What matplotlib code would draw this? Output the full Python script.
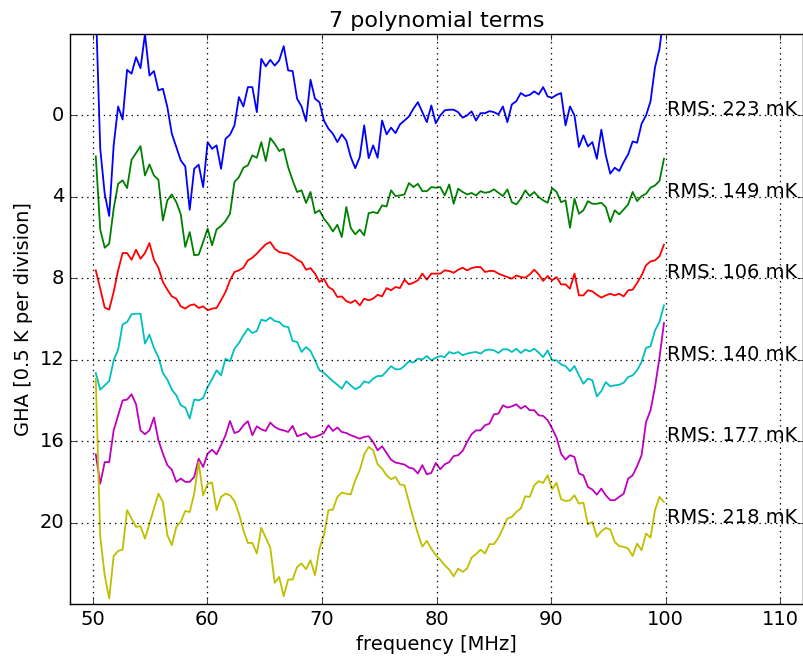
import numpy as np
import matplotlib
matplotlib.use("Agg")
import matplotlib.pyplot as plt

# frequency channels (MHz), 128 channels of ~0.39 MHz
freq = 50.25 + 0.390625 * np.arange(128)

# displayed residual traces (plot units, each trace shifted by one division)
tr_b = [-5.5, 1.64, 3.85, 4.94, 1.47, -0.44, 0.2, -2.24, -2.05, -2.86, -2.32, -4.0, -1.96, -2.18, -1.23, -1.31,
        -0.41, 0.9, 1.55, 2.21, 2.5, 4.63, 2.62, 2.42, 3.52, 1.31, 1.64, 1.47, 2.62, 1.15, 0.95, 0.49,
        -0.9, -0.44, -1.39, -1.39, -0.16, -2.78, -2.41, -2.73, -2.45, -2.7, -3.4, -2.21, -2.18, -0.82, -0.44, 0.28,
        -1.75, -0.82, -0.65, 0.25, 0.65, 0.9, 1.31, 0.93, 1.23, 2.05, 2.59, 2.05, 0.49, 2.1, 1.47, 2.08,
        0.25, 0.93, 0.6, 0.87, 0.44, 0.25, 0.05, -0.33, -0.65, -0.16, 0.33, -0.49, 0.38, 0.0, -0.25, -0.28,
        -0.28, -0.16, 0.11, 0.0, -0.2, 0.25, -0.11, -0.11, -0.21, -0.16, -0.05, -0.44, 0.33, -0.54, -0.7, -1.1,
        -0.95, -1.01, -1.18, -1.03, -1.39, -0.93, -0.87, -1.01, -1.1, 0.49, -0.44, 0.0, 1.55, 0.98, 1.52, 1.31,
        2.13, 0.7, 1.96, 2.86, 2.57, 2.73, 2.29, 1.91, 1.28, 1.34, 0.41, 0.0, -0.69, -2.37, -3.27, -5.0]
tr_g = [2.01, 5.61, 6.5, 6.3, 4.58, 3.36, 3.19, 3.57, 2.18, 1.85, 1.51, 2.95, 2.41, 2.95, 3.16, 5.16,
        4.17, 3.88, 4.26, 4.86, 6.46, 5.73, 6.87, 6.84, 6.22, 5.56, 6.38, 5.6, 5.43, 5.19, 4.83, 3.27,
        3.03, 2.57, 2.45, 1.96, 2.08, 1.31, 2.24, 1.11, 1.39, 1.75, 1.64, 2.54, 3.19, 3.76, 3.68, 4.3,
        3.76, 4.8, 4.66, 5.07, 5.35, 5.7, 5.37, 5.97, 4.5, 5.53, 5.84, 5.61, 5.89, 4.8, 4.75, 4.8,
        4.42, 4.47, 3.68, 3.96, 3.93, 3.88, 3.32, 3.52, 3.36, 3.72, 3.72, 3.52, 3.55, 3.52, 3.93, 3.39,
        4.34, 3.6, 3.76, 3.88, 3.81, 3.93, 3.72, 3.8, 3.76, 3.63, 3.8, 3.96, 3.63, 4.26, 4.37, 4.09,
        3.68, 3.96, 3.76, 4.01, 4.17, 4.29, 3.57, 3.76, 4.26, 4.17, 5.52, 4.09, 4.83, 4.66, 4.21, 4.34,
        4.34, 4.29, 4.5, 5.24, 4.66, 4.86, 4.62, 4.37, 3.76, 4.21, 3.96, 3.85, 3.55, 3.44, 3.22, 2.13]
tr_r = [7.61, 8.51, 9.44, 9.54, 8.67, 7.61, 6.76, 6.76, 7.09, 6.6, 7.04, 6.76, 6.27, 7.09, 7.48, 8.18,
        8.56, 8.89, 9.0, 9.38, 9.49, 9.33, 9.28, 9.46, 9.38, 9.57, 9.49, 9.46, 9.08, 8.67, 8.1, 7.69,
        7.61, 7.48, 7.12, 6.99, 6.79, 6.55, 6.33, 6.22, 6.55, 6.71, 6.76, 6.79, 6.92, 7.09, 7.2, 7.58,
        7.5, 7.77, 8.18, 8.02, 8.43, 8.56, 8.92, 8.89, 9.12, 9.21, 9.08, 9.33, 9.0, 9.08, 9.0, 8.81,
        8.89, 8.48, 8.59, 8.43, 8.48, 8.07, 8.3, 8.22, 8.1, 7.77, 8.07, 7.77, 7.77, 7.77, 7.61, 7.64,
        7.73, 7.58, 7.48, 7.61, 7.5, 7.45, 7.45, 7.69, 7.64, 7.64, 7.77, 7.86, 7.94, 8.02, 7.86, 7.94,
        7.97, 7.81, 7.58, 7.81, 8.13, 7.89, 8.1, 7.94, 8.3, 8.3, 8.51, 7.77, 8.84, 8.84, 8.59, 8.64,
        8.81, 8.95, 8.84, 8.76, 8.84, 8.76, 8.89, 8.59, 8.56, 8.23, 7.86, 7.36, 7.17, 7.12, 6.92, 6.35]
tr_c = [12.65, 13.47, 13.26, 13.05, 12.03, 11.5, 10.26, 10.15, 9.77, 9.74, 9.74, 11.21, 10.77, 11.42, 11.87, 12.65,
        12.98, 13.47, 13.75, 14.24, 14.35, 14.89, 13.95, 14.0, 13.88, 13.34, 12.96, 12.52, 12.77, 11.95, 12.08, 11.46,
        11.18, 10.8, 10.47, 10.69, 10.59, 10.03, 10.1, 9.93, 10.1, 10.15, 10.36, 10.39, 11.08, 11.13, 11.62, 11.38,
        11.57, 12.03, 12.52, 12.65, 12.85, 13.06, 13.23, 13.42, 13.06, 13.26, 13.45, 13.34, 13.06, 13.14, 12.93, 12.8,
        12.8, 12.57, 12.32, 12.47, 12.47, 12.31, 12.08, 12.14, 11.95, 11.98, 11.82, 12.03, 11.9, 11.82, 11.87, 11.62,
        11.7, 11.62, 11.78, 11.7, 11.65, 11.62, 11.7, 11.54, 11.5, 11.54, 11.67, 11.49, 11.49, 11.62, 11.46, 11.67,
        11.5, 11.59, 11.46, 11.65, 11.87, 11.54, 12.03, 12.03, 12.23, 12.31, 12.57, 12.31, 12.77, 13.18, 12.93, 13.01,
        13.8, 13.54, 13.1, 13.31, 13.26, 13.23, 13.13, 12.85, 12.77, 12.52, 12.11, 11.42, 11.34, 10.56, 10.15, 9.33]
tr_m = [16.65, 18.09, 17.03, 17.03, 15.47, 14.73, 14.0, 13.96, 13.7, 14.19, 15.47, 15.66, 15.47, 14.84, 15.95, 16.61,
        17.18, 17.4, 18.0, 17.84, 18.0, 18.0, 17.76, 16.86, 17.27, 16.61, 16.42, 16.65, 16.2, 15.71, 15.01, 15.6,
        15.52, 15.22, 15.02, 15.71, 15.27, 15.42, 15.5, 15.09, 15.3, 15.42, 15.47, 15.55, 15.25, 15.76, 15.68, 15.6,
        15.83, 15.79, 15.71, 15.6, 15.22, 15.5, 15.33, 15.55, 15.6, 15.71, 15.79, 15.88, 15.79, 15.76, 16.04, 16.45,
        16.25, 16.58, 16.91, 17.05, 17.1, 17.15, 17.3, 17.35, 17.59, 17.18, 17.63, 17.56, 17.07, 17.38, 17.14, 17.03,
        16.73, 16.69, 16.48, 16.04, 15.66, 15.47, 15.47, 15.22, 15.14, 14.68, 14.65, 14.24, 14.35, 14.29, 14.19, 14.4,
        14.27, 14.48, 14.48, 14.73, 14.76, 14.97, 15.38, 15.83, 16.61, 16.91, 16.69, 16.78, 17.59, 17.68, 18.25, 18.38,
        18.63, 18.33, 18.66, 18.9, 18.9, 18.74, 18.58, 17.84, 17.68, 17.23, 16.69, 15.06, 14.48, 13.34, 11.9, 10.2]
tr_y = [12.93, 20.7, 22.59, 23.73, 21.65, 21.39, 21.33, 19.39, 19.8, 20.21, 20.18, 20.79, 20.05, 19.31, 18.58, 18.99,
        20.62, 21.11, 20.21, 19.97, 19.43, 19.48, 18.58, 17.03, 18.66, 18.09, 18.04, 19.39, 18.74, 18.58, 18.66, 18.94,
        19.56, 20.38, 21.0, 21.0, 21.52, 20.26, 20.74, 21.23, 22.96, 22.67, 23.62, 22.8, 22.8, 22.18, 22.01, 22.29,
        21.85, 22.59, 21.28, 20.62, 19.39, 19.36, 18.74, 18.53, 18.58, 18.61, 17.92, 17.43, 16.65, 16.28, 16.45, 17.14,
        17.35, 17.68, 17.87, 17.76, 18.13, 18.17, 18.99, 19.8, 20.54, 21.18, 20.9, 21.28, 21.6, 21.82, 22.1, 22.31,
        22.64, 22.26, 22.42, 22.26, 21.72, 21.55, 21.33, 21.52, 21.06, 21.06, 20.74, 20.29, 19.8, 19.72, 19.48, 19.31,
        18.71, 18.74, 18.17, 17.97, 18.05, 17.68, 18.36, 18.05, 18.85, 18.94, 18.91, 18.66, 19.07, 19.02, 20.08, 19.97,
        20.7, 20.43, 20.26, 20.34, 20.95, 21.16, 21.19, 21.28, 21.64, 21.03, 21.36, 20.54, 20.74, 19.39, 18.74, 18.99]

traces = [tr_b, tr_g, tr_r, tr_c, tr_m, tr_y]
colors = ["b", "g", "r", "c", "m", "y"]
offsets = [0, 4, 8, 12, 16, 20]
rms_mk = [223, 149, 106, 140, 177, 218]

plt.style.use("classic")
plt.rcParams["font.family"] = ["DejaVu Sans"]

fig = plt.figure(figsize=(8.04, 6.6), dpi=100, facecolor="white")
ax = fig.add_axes([70 / 804, 56 / 660, 733 / 804, 570 / 660])

for tr, col, off, rms in zip(traces, colors, offsets, rms_mk):
    ax.plot(freq, tr, color=col, lw=1.3)
    # RMS annotation sits on the trace's zero line, just right of 100 MHz
    ax.text(100.1, off, "RMS: %d mK" % rms, fontsize=14, va="baseline", ha="left", clip_on=False)

ax.set_xlim(48, 112)
ax.set_ylim(24, -4)
ax.set_xticks([50, 60, 70, 80, 90, 100, 110])
ax.set_yticks([0, 4, 8, 12, 16, 20])
ax.tick_params(labelsize=14)
ax.grid(True, color="k", linestyle=":", linewidth=0.9)
ax.set_xlabel("frequency [MHz]", fontsize=14)
ax.set_ylabel("GHA [0.5 K per division]", fontsize=14)
ax.set_title("7 polynomial terms", fontsize=16)

fig.savefig("out.png", dpi=100, facecolor="white")
